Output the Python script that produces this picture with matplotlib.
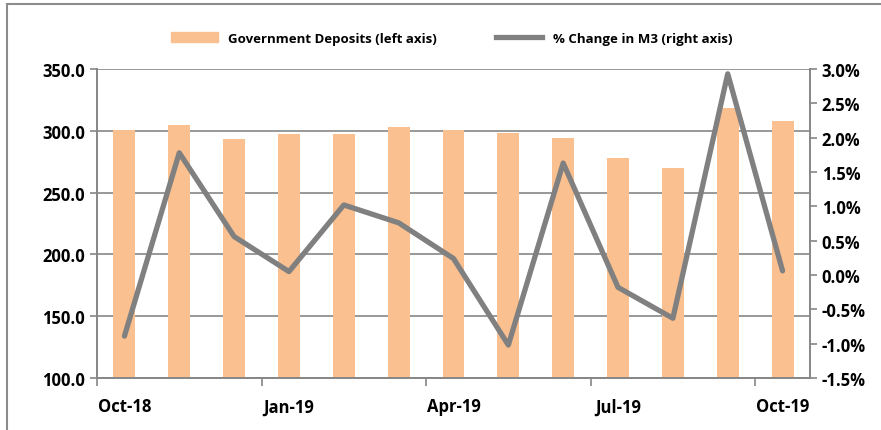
import matplotlib.pyplot as plt
from matplotlib.patches import Rectangle
from matplotlib.lines import Line2D
import numpy as np

plt.rcParams['font.family'] = ['Open Sans', 'DejaVu Sans']
plt.rcParams['font.weight'] = 'bold'

months = ['Oct-18', 'Nov-18', 'Dec-18', 'Jan-19', 'Feb-19', 'Mar-19', 'Apr-19',
          'May-19', 'Jun-19', 'Jul-19', 'Aug-19', 'Sep-19', 'Oct-19']
deposits = [301, 305, 293.5, 297.3, 297.8, 303, 301, 298, 294, 278.3, 269.6, 318.4, 308]
m3_change = [-0.89, 1.78, 0.56, 0.05, 1.02, 0.76, 0.24, -1.02, 1.63, -0.18, -0.63, 2.93, 0.06]

bar_color = '#FAC090'
line_color = '#808080'
axis_color = '#868686'

fig = plt.figure(figsize=(8.81, 4.31), dpi=100)
ax = fig.add_axes([97 / 881, 1 - 379 / 431, (810 - 97) / 881, (379 - 70) / 431])

x = np.arange(len(months))
ax.bar(x, deposits, width=0.4, color=bar_color, zorder=2)
ax.set_xlim(-0.5, len(months) - 0.5)
ax.set_ylim(100, 350)
ax.set_yticks(np.arange(100, 351, 50))
ax.set_yticklabels([f'{v:.1f}' for v in np.arange(100, 351, 50)], fontsize=12)
ax.yaxis.grid(True, color=axis_color, linewidth=1.2, zorder=0)
ax.set_axisbelow(True)

# ticks at category boundaries, labels at quarter months
ax.set_xticks(np.arange(-0.5, len(months), 3))
ax.set_xticklabels([])
ax.set_xticks(np.arange(0, len(months), 3), minor=True)
ax.set_xticklabels(months[::3], minor=True, fontsize=12)
ax.tick_params(axis='x', which='major', length=6, color=axis_color, width=1.2)
ax.tick_params(axis='x', which='minor', length=0, pad=14)
ax.tick_params(axis='y', length=5, color=axis_color, width=1.2)

for s in ['left', 'right', 'bottom']:
    ax.spines[s].set_color(axis_color)
    ax.spines[s].set_linewidth(1.2)
ax.spines['top'].set_visible(False)

ax2 = ax.twinx()
ax2.plot(x, m3_change, color=line_color, linewidth=3.8, solid_capstyle='round', zorder=3)
ax2.set_ylim(-1.5, 3.0)
ax2.set_yticks(np.arange(-1.5, 3.01, 0.5))
ax2.set_yticklabels([f'{v:.1f}%' for v in np.arange(-1.5, 3.01, 0.5)], fontsize=12)
ax2.tick_params(axis='y', length=5, color=axis_color, width=1.2)
for s in ['left', 'right', 'bottom']:
    ax2.spines[s].set_color(axis_color)
    ax2.spines[s].set_linewidth(1.2)
ax2.spines['top'].set_visible(False)

handles = [Rectangle((0, 0), 1, 1, color=bar_color),
           Line2D([0], [0], color=line_color, linewidth=3.8)]
fig.legend(handles, ['Government Deposits (left axis)', '% Change in M3 (right axis)'],
           loc='center', bbox_to_anchor=(452 / 881, 1 - 39 / 431), ncol=2, frameon=False,
           prop={'size': 9.5, 'weight': 'bold'}, handlelength=3.5, columnspacing=4.5,
           handleheight=0.8)

# outer border
fig.patches.append(Rectangle((7 / 881, -0.05), 1.1, 1 - 5 / 431 + 0.05, transform=fig.transFigure,
                             fill=False, edgecolor='#8c8c8c', linewidth=1.5))

fig.savefig('out.png', dpi=100)
